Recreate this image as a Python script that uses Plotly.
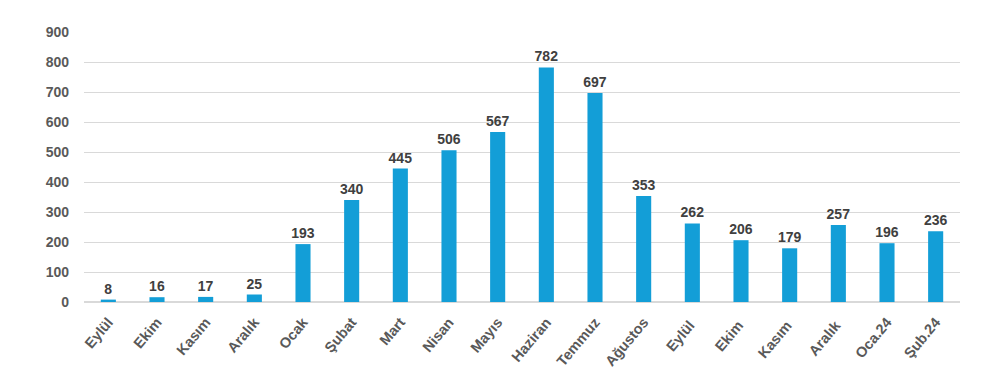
import plotly.graph_objects as go

categories = ["Eylül", "Ekim", "Kasım", "Aralık", "Ocak", "Şubat", "Mart", "Nisan", "Mayıs",
              "Haziran", "Temmuz", "Ağustos", "Eylül ", "Ekim ", "Kasım ", "Aralık ", "Oca.24", "Şub.24"]
values = [8, 16, 17, 25, 193, 340, 445, 506, 567, 782, 697, 353, 262, 206, 179, 257, 196, 236]
y_ticks = [0, 100, 200, 300, 400, 500, 600, 700, 800, 900]

fig = go.Figure(go.Bar(
    x=categories, y=values,
    marker=dict(color="#139ED7", line=dict(width=0)),
    text=[str(v) for v in values], textposition="outside", constraintext="none",
    textfont=dict(family="Liberation Sans, Arial", size=14, color="#404040", weight="bold"),
    cliponaxis=False,
))
fig.update_layout(
    width=989, height=389,
    margin=dict(l=76, r=37, t=24, b=95, autoexpand=False),
    paper_bgcolor="white", plot_bgcolor="white",
    bargap=0.69, showlegend=False,
    font=dict(family="Liberation Sans, Arial", size=14, color="#595959", weight="bold"),
    xaxis=dict(tickangle=-50, showgrid=False, showline=False, ticks="", automargin=False,
               ticklabelstandoff=8,
               tickfont=dict(size=14.5, color="#595959", weight="bold")),
    yaxis=dict(range=[0, 900], tickvals=y_ticks, showgrid=True, gridcolor="#D9D9D9",
               gridwidth=1, zeroline=True, zerolinecolor="#D9D9D9", ticks="", automargin=False,
               ticklabelstandoff=14, tickfont=dict(size=14, color="#595959", weight="bold")),
)
fig.write_html("out.html")
